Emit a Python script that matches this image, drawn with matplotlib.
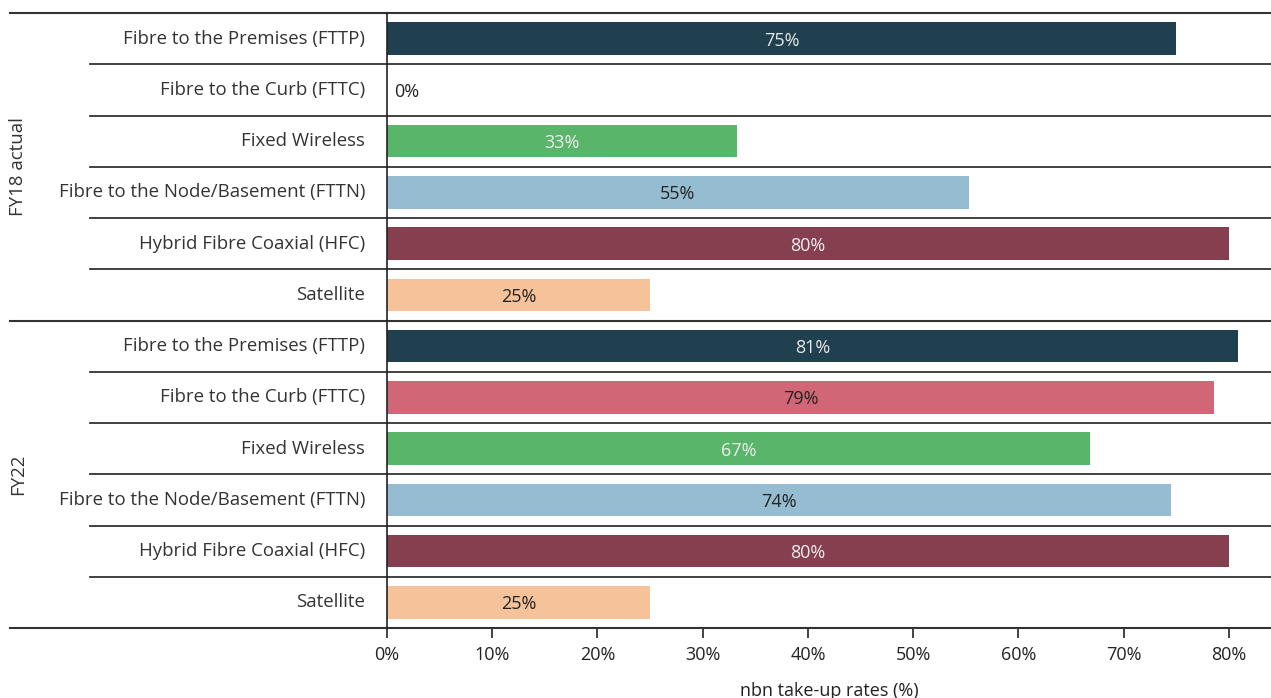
import matplotlib.pyplot as plt
from matplotlib.transforms import blended_transform_factory

plt.rcParams['font.family'] = ['Open Sans', 'DejaVu Sans']

technologies = ['Fibre to the Premises (FTTP)', 'Fibre to the Curb (FTTC)', 'Fixed Wireless',
                'Fibre to the Node/Basement (FTTN)', 'Hybrid Fibre Coaxial (HFC)', 'Satellite']
groups = ['FY18 actual', 'FY22']
fy18_values = [75.0, 0.0, 33.3, 55.3, 80.0, 25.0]
fy22_values = [80.9, 78.6, 66.8, 74.5, 80.0, 25.0]
bar_colors = ['#203f4f', '#d16677', '#58b56a', '#95bcd0', '#853f4f', '#f5c299']
label_colors = ['#e8e8e8', '#222222', '#eeeeee', '#222222', '#eeeeee', '#222222']
xticks = [0, 10, 20, 30, 40, 50, 60, 70, 80]

fig = plt.figure(figsize=(12.71, 6.98), dpi=100)
ax = fig.add_axes([387 / 1271, 1 - 628 / 698, 884 / 1271, 615 / 698])

n = len(technologies)
all_values = fy18_values + fy22_values
positions = list(range(len(all_values)))
colors = bar_colors * 2
ax.barh(positions, all_values, height=0.63, color=colors)

for pos, val, lc in zip(positions, all_values, label_colors * 2):
    if val == 0:
        ax.text(0.7, pos + 0.04, f'{round(val)}%', ha='left', va='center', fontsize=13, color='#222222')
    else:
        ax.text(val / 2, pos + 0.04, f'{round(val)}%', ha='center', va='center', fontsize=13, color=lc)

ax.set_xlim(0, 84)
ax.set_ylim(len(all_values) - 0.5, -0.5)
ax.set_yticks([])
ax.set_xticks(xticks)
ax.set_xticklabels([f'{t}%' for t in xticks], fontsize=13, color='#222222')
ax.tick_params(axis='x', length=7, width=1.2, color='#222222', pad=6)
ax.set_xlabel('nbn take-up rates (%)', fontsize=13, color='#222222', labelpad=13)

for side in ['top', 'right', 'bottom']:
    ax.spines[side].set_visible(False)
ax.spines['left'].set_color('#222222')
ax.spines['left'].set_linewidth(1.2)

trans = blended_transform_factory(ax.transAxes, ax.transData)
# row separators and group separators
for i in range(len(all_values) + 1):
    y = i - 0.5
    if i % n == 0:
        x0 = (10 - 387) / 884
        lw = 1.5
    else:
        x0 = (90 - 387) / 884
        lw = 1.3
    ax.plot([x0, 1], [y, y], transform=trans, color='#333333', lw=lw, clip_on=False)

for i, tech in enumerate(technologies * 2):
    ax.text(-22 / 884, i, tech, transform=trans, ha='right', va='center', fontsize=13.4, color='#333333')

for g, name in enumerate(groups):
    ax.text(-369 / 884, g * n + (n - 1) / 2, name, transform=trans, rotation=90,
            ha='center', va='center', fontsize=13.4, color='#333333')

fig.savefig('out.png', dpi=100)
